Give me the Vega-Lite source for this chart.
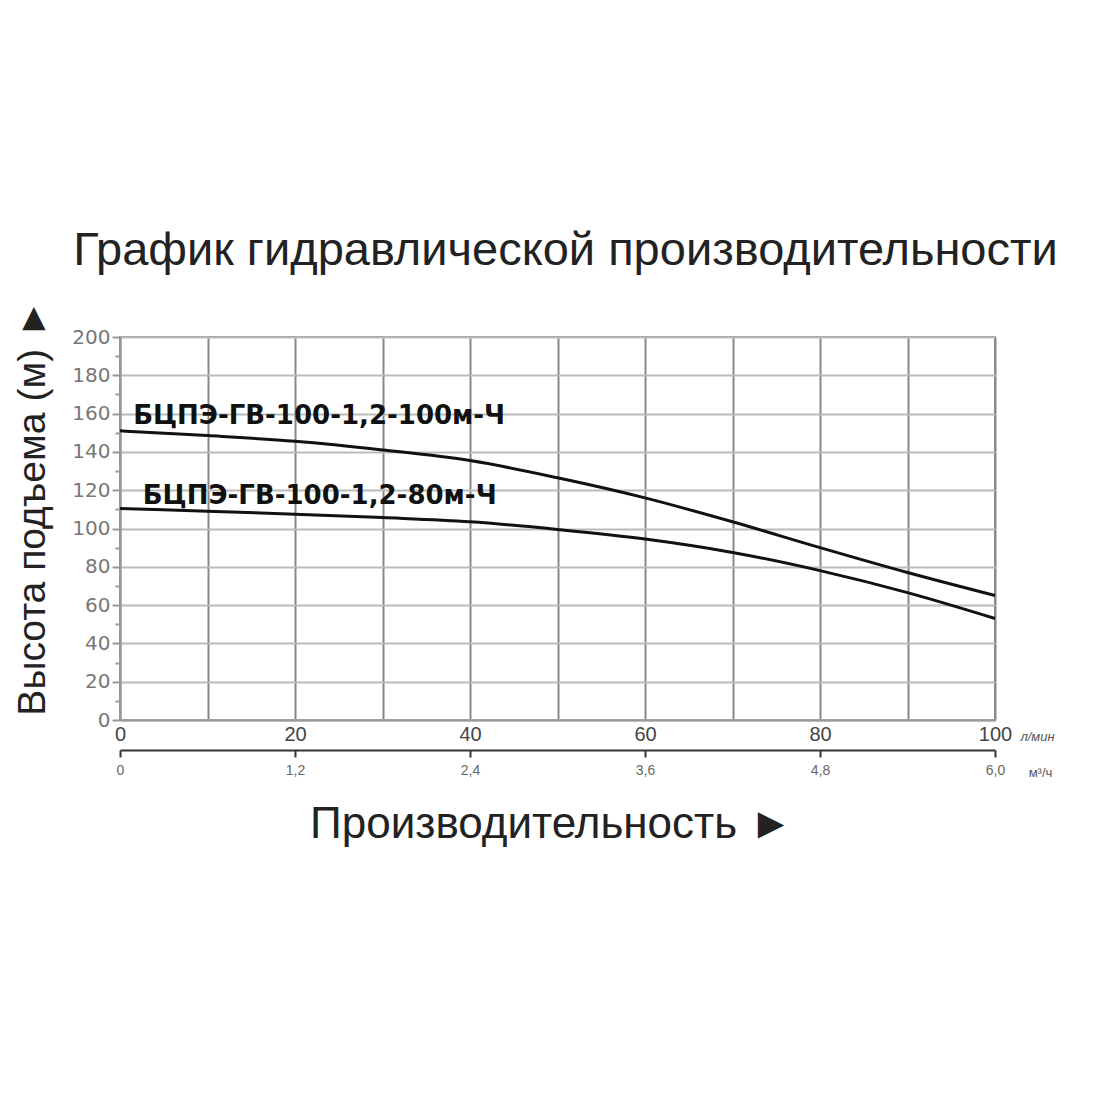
{
  "$schema": "https://vega.github.io/schema/vega-lite/v6.json",
  "autosize": "none",
  "padding": {"left": 120, "top": 337, "right": 105, "bottom": 380},
  "width": 875,
  "height": 383,
  "background": "white",
  "config": {
    "font": "Liberation Sans",
    "view": {"stroke": "#999", "strokeWidth": 2},
    "axis": {"labelOverlap": false, "labelBound": false, "labelFlush": false}
  },
  "title": {
    "text": "График гидравлической производительности",
    "font": "Liberation Sans",
    "fontSize": 47,
    "fontWeight": "normal",
    "color": "#222",
    "anchor": "middle",
    "offset": 24,
    "dx": 8
  },
  "datasets": {
    "curves": [
      {"series": "100м", "q": 0, "h": 151},
      {"series": "100м", "q": 10, "h": 148.5},
      {"series": "100м", "q": 20, "h": 145.5},
      {"series": "100м", "q": 30, "h": 141},
      {"series": "100м", "q": 40, "h": 135.5},
      {"series": "100м", "q": 50, "h": 126.5},
      {"series": "100м", "q": 60, "h": 116},
      {"series": "100м", "q": 70, "h": 103.5},
      {"series": "100м", "q": 80, "h": 90},
      {"series": "100м", "q": 90, "h": 77},
      {"series": "100м", "q": 100, "h": 65},
      {"series": "80м", "q": 0, "h": 110.5},
      {"series": "80м", "q": 10, "h": 109},
      {"series": "80м", "q": 20, "h": 107.5},
      {"series": "80м", "q": 30, "h": 105.7},
      {"series": "80м", "q": 40, "h": 103.5},
      {"series": "80м", "q": 50, "h": 99.5},
      {"series": "80м", "q": 60, "h": 94.5},
      {"series": "80м", "q": 70, "h": 87.5},
      {"series": "80м", "q": 80, "h": 78},
      {"series": "80м", "q": 90, "h": 66.5},
      {"series": "80м", "q": 100, "h": 53}
    ],
    "labels": [
      {"name": "БЦПЭ-ГВ-100-1,2-100м-Ч", "q": 1.5, "h": 159},
      {"name": "БЦПЭ-ГВ-100-1,2-80м-Ч", "q": 2.6, "h": 117}
    ],
    "m3h": [
      {"m3h": 0},
      {"m3h": 6}
    ]
  },
  "layer": [
    {
      "layer": [
        {
          "data": {"name": "curves"},
          "mark": {"type": "line", "color": "#111", "strokeWidth": 3, "interpolate": "monotone"},
          "encoding": {
            "x": {
              "field": "q",
              "type": "quantitative",
              "scale": {"domain": [0, 100], "nice": false},
              "axis": {
                "orient": "bottom",
                "values": [0, 10, 20, 30, 40, 50, 60, 70, 80, 90, 100],
                "tickCount": 30,
                "labelExpr": "datum.value % 20 == 0 ? datum.label : ''",
                "grid": true,
                "gridColor": "#888",
                "gridWidth": 2,
                "ticks": false,
                "domainColor": "#999",
                "domainWidth": 2,
                "labelFont": "Liberation Sans",
                "labelFontSize": 20,
                "labelColor": "#444",
                "labelPadding": 4,
                "title": "л/мин",
                "titleFont": "Liberation Sans",
                "titleFontSize": 13,
                "titleFontWeight": "normal",
                "titleFontStyle": "italic",
                "titleColor": "#555",
                "titleX": 917,
                "titleY": 16,
                "titleBaseline": "middle",
                "titleAlign": "center"
              }
            },
            "y": {
              "field": "h",
              "type": "quantitative",
              "scale": {"domain": [0, 200], "nice": false},
              "axis": {
                "values": [0, 20, 40, 60, 80, 100, 120, 140, 160, 180, 200],
                "tickCount": 30,
                "grid": true,
                "gridColor": "#bbb",
                "gridWidth": 2,
                "tickSize": 8,
                "tickColor": "#999",
                "tickWidth": 2,
                "domainColor": "#999",
                "domainWidth": 2,
                "labelFont": "DejaVu Sans",
                "labelFontSize": 20,
                "labelColor": "#777",
                "labelPadding": 2,
                "title": "Высота подъема (м) ►",
                "titleFont": "Liberation Sans",
                "titleFontSize": 39,
                "titleFontWeight": "normal",
                "titleColor": "#222",
                "titleX": -88,
                "titleY": 170,
                "titleBaseline": "middle",
                "titleAlign": "center"
              }
            },
            "detail": {"field": "series"}
          }
        },
        {
          "data": {"name": "labels"},
          "mark": {"type": "text", "align": "left", "baseline": "middle", "font": "DejaVu Sans", "fontSize": 26, "fontWeight": "bold", "color": "#111"},
          "encoding": {
            "x": {"field": "q", "type": "quantitative"},
            "y": {"field": "h", "type": "quantitative"},
            "text": {"field": "name"}
          }
        }
      ]
    },
    {
      "data": {"name": "curves"},
      "mark": {"type": "point", "opacity": 0},
      "encoding": {
        "y": {
          "field": "h",
          "type": "quantitative",
          "scale": {"domain": [0, 200], "nice": false},
          "axis": {
            "orient": "left",
            "values": [10, 30, 50, 70, 90, 110, 130, 150, 170, 190],
            "tickCount": 30,
            "labels": false,
            "domain": false,
            "grid": false,
            "tickSize": 5,
            "tickColor": "#999",
            "tickWidth": 2,
            "title": null
          }
        }
      }
    },
    {
      "data": {"name": "m3h"},
      "mark": {"type": "point", "opacity": 0},
      "encoding": {
        "x": {
          "field": "m3h",
          "type": "quantitative",
          "scale": {"domain": [0, 6], "nice": false},
          "axis": {
            "orient": "bottom",
            "offset": 30,
            "values": [0, 1.2, 2.4, 3.6, 4.8, 6],
            "tickCount": 30,
            "labelExpr": "datum.value == 0 ? '0' : replace(format(datum.value, '.1f'), '.', ',')",
            "grid": false,
            "domainColor": "#333",
            "domainWidth": 2,
            "tickColor": "#333",
            "tickWidth": 2,
            "tickSize": 7,
            "labelFont": "Liberation Sans",
            "labelFontSize": 14,
            "labelColor": "#666",
            "labelPadding": 6,
            "title": "м³/ч",
            "titleFont": "Liberation Sans",
            "titleFontSize": 13,
            "titleFontWeight": "normal",
            "titleColor": "#555",
            "titleX": 920,
            "titleY": 22,
            "titleBaseline": "middle",
            "titleAlign": "center"
          }
        }
      }
    },
    {
      "data": {"name": "m3h"},
      "mark": {"type": "point", "opacity": 0},
      "encoding": {
        "x": {
          "field": "m3h",
          "type": "quantitative",
          "scale": {"domain": [0, 6], "nice": false},
          "axis": {
            "orient": "bottom",
            "labels": false,
            "ticks": false,
            "domain": false,
            "grid": false,
            "title": "Производительность ►",
            "titleFont": "Liberation Sans",
            "titleFontSize": 44,
            "titleFontWeight": "normal",
            "titleColor": "#222",
            "titleX": 431,
            "titleY": 104,
            "titleBaseline": "middle",
            "titleAlign": "center"
          }
        }
      }
    }
  ],
  "resolve": {
    "scale": {"x": "independent", "y": "independent"},
    "axis": {"x": "independent", "y": "independent"}
  }
}
